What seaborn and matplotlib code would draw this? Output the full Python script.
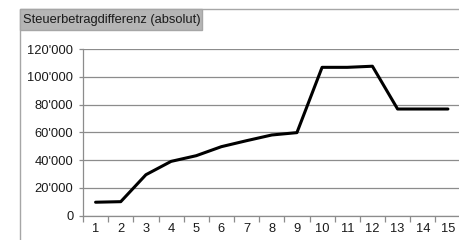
#!/usr/bin/env python3
"""Line chart: Steuerbetragdifferenz (absolut) over 15 periods."""

import matplotlib
matplotlib.use("Agg")
import matplotlib.pyplot as plt
from matplotlib.patches import Rectangle
from matplotlib.ticker import FuncFormatter, FixedLocator
import pandas as pd
import seaborn as sns

# Data
periods = list(range(1, 16))
differences = [9700, 10100, 29500, 39100, 43200, 49700, 54000, 58100, 59800,
               106800, 106800, 107600, 76800, 76800, 76800]
y_ticks = [0, 20000, 40000, 60000, 80000, 100000, 120000]
title_text = "Steuerbetragdifferenz (absolut)"

GRID = "#8c8c8c"
FRAME = "#a6a6a6"
TEXT = "#1a1a1a"


def swiss_thousands(v, pos):
    return f"{int(v):,}".replace(",", "'")


def main():
    sns.set_style("white")
    plt.rcParams["font.family"] = ["Liberation Sans", "DejaVu Sans"]

    df = pd.DataFrame({"period": periods, "diff": differences})

    fig = plt.figure(figsize=(4.59, 2.40), dpi=100)
    ax = fig.add_axes([83 / 459, 1 - 215.7 / 240, (460.5 - 83) / 459, (215.7 - 49) / 240])

    # outer chart frame and title box (figure coords)
    fig.patches.append(Rectangle((20 / 459, -0.1), 1.2, 1 - 9 / 240 + 0.1,
                                 transform=fig.transFigure, fill=False,
                                 edgecolor=FRAME, linewidth=1.0))
    fig.patches.append(Rectangle((20 / 459, 1 - 30 / 240), (202 - 20) / 459, 21 / 240,
                                 transform=fig.transFigure, facecolor="#b5b5b5",
                                 edgecolor=FRAME, linewidth=1.0))
    fig.text(23 / 459, 1 - 20 / 240, title_text, fontsize=9.3, color=TEXT,
             ha="left", va="center")

    sns.lineplot(data=df, x="period", y="diff", ax=ax, color="black",
                 linewidth=2.2, zorder=3)

    ax.set_xlim(0.5, 15.5)
    ax.set_ylim(0, 120000)
    ax.set_yticks(y_ticks)
    ax.yaxis.set_major_formatter(FuncFormatter(swiss_thousands))
    ax.set_xticks(periods)
    ax.xaxis.set_minor_locator(FixedLocator([p + 0.5 for p in range(0, 16)]))
    ax.set_xlabel("")
    ax.set_ylabel("")

    ax.grid(axis="y", color=GRID, linewidth=0.9)
    ax.set_axisbelow(True)
    for side in ["top", "right"]:
        ax.spines[side].set_visible(False)
    for side in ["left", "bottom"]:
        ax.spines[side].set_color(GRID)
        ax.spines[side].set_linewidth(0.9)

    ax.tick_params(axis="y", which="major", length=3, color=GRID, width=0.9,
                   labelsize=9.3, labelcolor=TEXT, pad=4, left=True)
    ax.tick_params(axis="x", which="major", length=0, labelsize=9.3,
                   labelcolor=TEXT, pad=5)
    ax.tick_params(axis="x", which="minor", length=4, color=GRID, width=0.9,
                   bottom=True)

    fig.savefig("out.png", dpi=100)
    plt.close(fig)


if __name__ == "__main__":
    main()
